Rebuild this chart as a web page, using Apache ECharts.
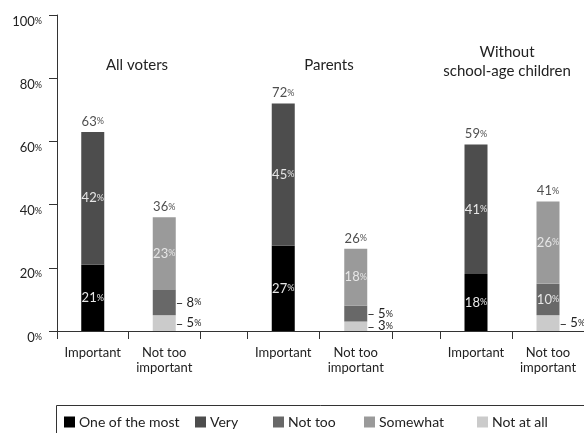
<!DOCTYPE html>
<html><head><meta charset="utf-8">
<script src="https://cdn.jsdelivr.net/npm/echarts@6/dist/echarts.min.js"></script>
<style>html,body{margin:0;padding:0;background:#fff}#c{width:584px;height:433px}</style>
</head><body><div id="c"></div>
<script>
// ---- data ----
const groups = ['All voters', 'Parents', 'Without\nschool-age children'];
const categories = ['Important', 'Not too\nimportant'];
const oneOfTheMost = [21, 27, 18];   // "Important" bars, bottom
const very = [42, 45, 41];           // "Important" bars, top
const notAtAll = [5, 3, 5];          // "Not too important" bars, bottom
const notToo = [8, 5, 10];           // middle
const somewhat = [23, 18, 26];       // top
const yTicks = [0, 20, 40, 60, 80, 100];
const legendNames = ['One of the most', 'Very', 'Not too', 'Somewhat', 'Not at all'];

// ---- style ----
const FONT = 'Lato';
const TXT = '#222';
const INSIDE = '#e6e6e6';
const colors = {
  'One of the most': '#000000',
  'Very': '#4d4d4d',
  'Not too': '#686868',
  'Somewhat': '#9a9a9a',
  'Not at all': '#cbcbcb'
};
const gridBoxes = [
  { left: 57, right: 384 },
  { left: 247, right: 192 },
  { left: 440, right: 0 }
];
const TOP = 15, BOTTOM = 102;
function richFor(color) {
  return {
    n: { fontFamily: FONT, fontSize: 13, color: color },
    p: { fontFamily: FONT, fontSize: 9, color: color },
    d: { fontFamily: FONT, fontSize: 13, color: color, padding: [3, 0, 0, 0] }
  };
}
function pct(v) { return '{n|' + v + '}{p|%}'; }

const grid = [], xAxis = [], yAxis = [], series = [];
gridBoxes.forEach((b, g) => {
  grid.push({ left: b.left, right: b.right, top: TOP, bottom: BOTTOM, containLabel: false });
  xAxis.push({
    type: 'category', gridIndex: g, data: categories,
    axisLine: { show: true, lineStyle: { color: '#333', width: 1 } },
    axisTick: { show: true, length: 8, lineStyle: { color: '#333' } },
    axisLabel: { interval: 0, fontFamily: FONT, fontSize: 13, color: TXT, lineHeight: 15, margin: 14 }
  });
  yAxis.push({
    type: 'value', gridIndex: g, min: yTicks[0], max: yTicks[yTicks.length - 1],
    interval: yTicks[1] - yTicks[0], show: g === 0,
    axisLine: { show: true, lineStyle: { color: '#333' } },
    axisTick: { show: true, length: 8, lineStyle: { color: '#333' } },
    splitLine: { show: false },
    axisLabel: { margin: 15, formatter: v => pct(v), padding: [13, 0, 0, 0], rich: richFor(TXT) }
  });

  const insideLabel = {
    show: true, position: 'inside', color: INSIDE, rich: richFor(INSIDE),
    formatter: p => pct(p.value)
  };
  const outsideLabel = {
    show: true, position: 'right', distance: 0, color: TXT, rich: richFor(TXT),
    formatter: p => '{d|–} ' + pct(p.value)
  };
  const mk = (name, vals, labelFn) => ({
    type: 'bar', name: name, xAxisIndex: g, yAxisIndex: g, stack: 's' + g,
    barWidth: 23, itemStyle: { color: colors[name] },
    data: vals.map(v => (v === '-' ? '-' : { value: v, label: labelFn(v) }))
  });
  const autoLabel = v => (v < 10 ? outsideLabel : insideLabel);

  series.push(mk('One of the most', [oneOfTheMost[g], '-'], () => insideLabel));
  series.push(mk('Not at all', ['-', notAtAll[g]], autoLabel));
  series.push(mk('Very', [very[g], '-'], () => insideLabel));
  series.push(mk('Not too', ['-', notToo[g]], autoLabel));
  series.push(mk('Somewhat', ['-', somewhat[g]], () => insideLabel));
  const totals = [oneOfTheMost[g] + very[g], notAtAll[g] + notToo[g] + somewhat[g]];
  series.push({
    type: 'scatter', name: 'total', xAxisIndex: g, yAxisIndex: g,
    symbolSize: 0, silent: true,
    data: totals,
    label: { show: true, position: 'top', distance: 4, color: TXT, rich: richFor(TXT), formatter: p => pct(p.value) }
  });
});
// continuous baseline across the groups
grid.push({ left: 57, right: 0, top: TOP, bottom: BOTTOM });
xAxis.push({ type: 'value', gridIndex: 3, axisLine: { show: true, lineStyle: { color: '#333' } },
  axisTick: { show: false }, axisLabel: { show: false }, splitLine: { show: false } });
yAxis.push({ type: 'value', gridIndex: 3, show: false });

const titleX = [137, 329, 507];
const titleTop = [56, 56, 43];
const title = groups.map((t, i) => ({
  text: t, left: titleX[i], top: titleTop[i], textAlign: 'center', padding: 0,
  textStyle: { fontFamily: FONT, fontSize: 15, fontWeight: 'normal', color: TXT, lineHeight: 19 }
}));

const legendX = [64, 195, 273, 364, 477];
const legend = legendNames.map((n, i) => ({
  data: [n], left: legendX[i], top: 415, padding: 0, itemWidth: 11, itemHeight: 11,
  icon: 'rect', itemGap: 0,
  textStyle: { fontFamily: FONT, fontSize: 14, color: TXT, padding: [0, 0, 0, -1] }
}));

const chart = echarts.init(document.getElementById('c'), null, { renderer: 'canvas' });
chart.setOption({
  animation: false,
  backgroundColor: '#fff',
  title, legend, grid, xAxis, yAxis, series,
  graphic: [{
    type: 'rect', silent: true, z: 0,
    shape: { x: 56.5, y: 405.5, width: 600, height: 60 },
    style: { fill: 'none', stroke: '#333', lineWidth: 1 }
  }]
});
</script></body></html>
